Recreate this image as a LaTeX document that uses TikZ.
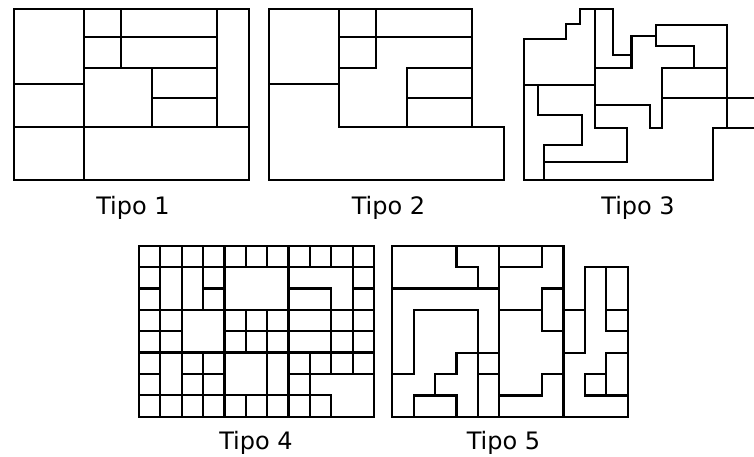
\documentclass[tikz,border=0pt]{standalone}
\usepackage{fontspec}
\setmainfont{DejaVu Sans}

\begin{document}
\begin{tikzpicture}[x=1pt, y=-1pt, line width=2.2pt, line cap=rect]
    \tikzset{
        tipo/.style={font=\fontsize{24}{28}\selectfont, anchor=base, inner sep=0pt}
    }
    \useasboundingbox (0,0) rectangle (754,456);

    % Tipo 1
    \draw (14,9) rectangle (249,180.3);
    \draw (14,84) -- (84,84);
    \draw (14,127) -- (249,127);
    \draw (84,9) -- (84,180.3);
    \draw (120.7,9) -- (120.7,67.7);
    \draw (84,36.7) -- (216.7,36.7);
    \draw (84,67.7) -- (216.7,67.7);
    \draw (216.7,9) -- (216.7,127);
    \draw (151.7,67.7) -- (151.7,127);
    \draw (151.7,98.3) -- (216.7,98.3);

    % Tipo 2
    \begin{scope}[xshift=255pt]
        \draw (14,9) -- (216.7,9) -- (216.7,127) -- (249,127) -- (249,180.3) -- (14,180.3) -- cycle;
        \draw (14,84) -- (84,84);
        \draw (84,9) -- (84,127) -- (216.7,127);
        \draw (120.7,9) -- (120.7,67.7) -- (84,67.7);
        \draw (84,36.7) -- (216.7,36.7);
        \draw (151.7,127) -- (151.7,67.7) -- (216.7,67.7);
        \draw (151.7,98.3) -- (216.7,98.3);
    \end{scope}

    % Tipo 3
    \draw (612.7,55) -- (612.7,9) -- (580.3,9) -- (580.3,24) -- (565.7,24) -- (565.7,39.3)
        -- (524,39.3) -- (524,180) -- (713.3,180) -- (713.3,127.7) -- (754,127.7);
    \draw (612.7,55) -- (631.5,55);
    \draw (631.5,68.3) -- (631.5,35.7) -- (655.7,35.7) -- (655.7,25) -- (726.7,25) -- (726.7,127.7);
    \draw (655.7,35.7) -- (655.7,45.7) -- (694.3,45.7) -- (694.3,68.3);
    \draw (595,9) -- (595,128.3);
    \draw (595,68.3) -- (631.5,68.3);
    \draw (524,85) -- (595,85);
    \draw (538.3,85) -- (538.3,115) -- (581.7,115) -- (581.7,145) -- (544.3,145) -- (544.3,180);
    \draw (595,104.7) -- (650,104.7) -- (650,127.7) -- (661.7,127.7) -- (661.7,68.3) -- (726.7,68.3);
    \draw (661.7,98.3) -- (754,98.3);
    \draw (595,128.3) -- (626.7,128.3) -- (626.7,161.7) -- (544.3,161.7);

    % Tipo 4
    \begin{scope}[shift={(139,245.7)}, x=21.364pt, y=-21.364pt]
        \draw (0,0) rectangle (11,8);
        \foreach \r/\a/\b in {1/0/11, 2/0/1, 2/3/4, 2/7/9, 2/10/11, 3/0/11, 4/0/2, 4/4/11,
                               5/0/11, 6/0/1, 6/2/4, 6/7/11, 7/0/9}
            \draw (\a,\r) -- (\b,\r);
        \foreach \c/\a/\b in {1/0/8, 2/0/8, 3/0/3, 3/5/8, 4/0/8, 5/0/1, 5/3/5, 5/7/8, 6/0/1,
                               6/3/8, 7/0/8, 8/0/1, 8/5/8, 9/0/1, 9/2/6, 9/7/8, 10/0/6}
            \draw (\c,\a) -- (\c,\b);
    \end{scope}

    % Tipo 5
    \begin{scope}[shift={(392.3,245.7)}, x=21.4pt, y=-21.4pt]
        \draw (0,0) -- (8,0) -- (8,3) -- (9,3) -- (9,1) -- (11,1) -- (11,8) -- (0,8) -- cycle;
        \draw (3,0) -- (3,1) -- (4,1) -- (4,2);
        \draw (0,2) -- (5,2);
        \draw (5,0) -- (5,8);
        \draw (5,1) -- (7,1) -- (7,0);
        \draw (8,2) -- (7,2) -- (7,4) -- (8,4);
        \draw (5,3) -- (7,3);
        \draw (4,8) -- (4,3) -- (1,3) -- (1,6) -- (0,6);
        \draw (5,5) -- (3,5) -- (3,6) -- (2,6) -- (2,7);
        \draw (1,8) -- (1,7) -- (3,7) -- (3,8);
        \draw (4,6) -- (5,6);
        \draw (5,7) -- (7,7) -- (7,6) -- (8,6);
        \draw (8,3) -- (8,8);
        \draw (8,5) -- (9,5) -- (9,3);
        \draw (10,1) -- (10,4);
        \draw (10,3) -- (11,3);
        \draw (10,4) -- (11,4);
        \draw (11,5) -- (10,5) -- (10,7);
        \draw (10,6) -- (9,6) -- (9,7) -- (11,7);
    \end{scope}

    \node[tipo] (tipo1) at (133,214) {Tipo 1};
    \node[tipo] (tipo2) at (388.5,214) {Tipo 2};
    \node[tipo] (tipo3) at (638,214) {Tipo 3};
    \node[tipo] (tipo4) at (256,449) {Tipo 4};
    \node[tipo] (tipo5) at (503.5,449) {Tipo 5};
\end{tikzpicture}
\end{document}
